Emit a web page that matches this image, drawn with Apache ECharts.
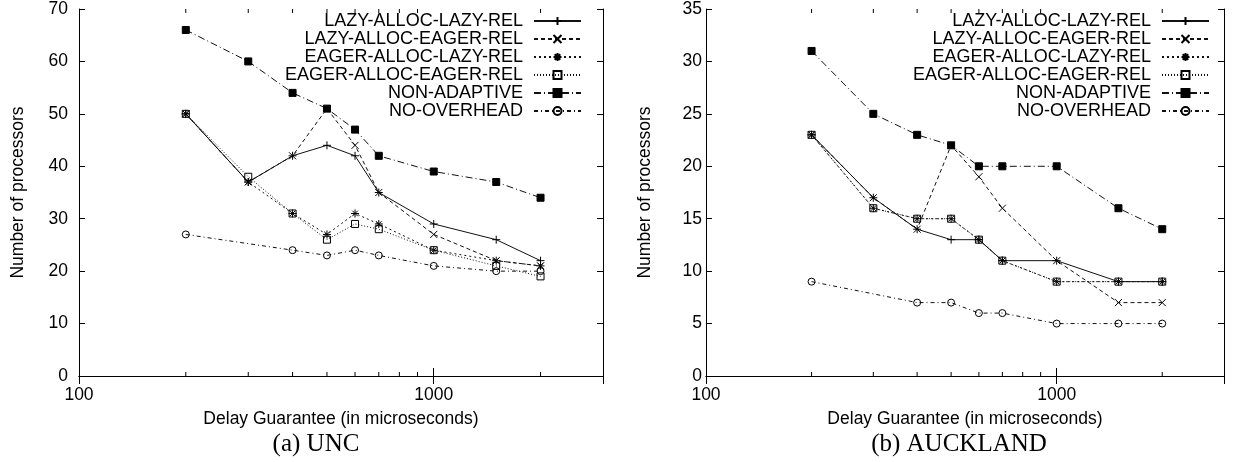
<!DOCTYPE html>
<html>
<head>
<meta charset="utf-8">
<script src="https://cdn.jsdelivr.net/npm/echarts@6/dist/echarts.min.js"></script>
<style>
html,body{margin:0;padding:0;background:#fff;}
#chart{width:1242px;height:462px;}
</style>
</head>
<body>
<div id="chart"></div>
<script>
// ---- data ----
const delays = [200, 300, 400, 500, 600, 700, 1000, 1500, 2000];
const seriesNames = ['LAZY-ALLOC-LAZY-REL', 'LAZY-ALLOC-EAGER-REL', 'EAGER-ALLOC-LAZY-REL', 'EAGER-ALLOC-EAGER-REL', 'NON-ADAPTIVE', 'NO-OVERHEAD'];

const uncLazyLazy    = [50, 37, 42, 44, 42, 35, 29, 26, 22];
const uncLazyEager   = [50, 37, 42, 51, 44, 35, 27, 22, 21];
const uncEagerLazy   = [50, 37, 31, 27, 31, 29, 24, 22, 21];
const uncEagerEager  = [50, 38, 31, 26, 29, 28, 24, 21, 19];
const uncNonAdaptive = [66, 60, 54, 51, 47, 42, 39, 37, 34];
const uncNoOverhead  = [27, null, 24, 23, 24, 23, 21, 20, 20];

const aucLazyLazy    = [23, 17, 14, 13, 13, 11, 11, 9, 9];
const aucLazyEager   = [23, 17, 14, 22, 19, 16, 11, 7, 7];
const aucEagerLazy   = [23, 16, 15, 15, 13, 11, 9, 9, 9];
const aucEagerEager  = [23, 16, 15, 15, 13, 11, 9, 9, 9];
const aucNonAdaptive = [31, 25, 23, 22, 20, 20, 20, 16, 14];
const aucNoOverhead  = [9, null, 7, 7, 6, 6, 5, 5, 5];

const xTickLabels = [100, 1000];
const minorTickValues = [200, 300, 400, 500, 600, 700, 800, 900, 2000];
const panelTitles = ['(a) UNC', '(b) AUCKLAND'];
const xAxisTitle = 'Delay Guarantee (in microseconds)';
const yAxisTitle = 'Number of processors';

// ---- styles ----
const SANS = "'Liberation Sans', Arial, Helvetica, sans-serif";
const SERIF = "'Liberation Serif', 'Times New Roman', serif";
const styles = [
  {symbol: 'path://M0,5L10,5M5,0L5,10', size: 8, dash: 'solid', fill: 'transparent'},
  {symbol: 'path://M0,0L10,10M10,0L0,10', size: 7, dash: [4, 3], fill: 'transparent'},
  {symbol: 'path://M0,5L10,5M5,0L5,10M1.5,1.5L8.5,8.5M8.5,1.5L1.5,8.5', size: 8, dash: [2, 3], fill: 'transparent'},
  {symbol: 'rect', size: 7, dash: [1, 2], fill: 'transparent'},
  {symbol: 'rect', size: 7, dash: [7, 3, 1, 3], fill: '#000'},
  {symbol: 'circle', size: 7, dash: [4, 3, 1, 3], fill: 'transparent'}
];

const uncSets = [uncLazyLazy, uncLazyEager, uncEagerLazy, uncEagerEager, uncNonAdaptive, uncNoOverhead];
const aucSets = [aucLazyLazy, aucLazyEager, aucEagerLazy, aucEagerEager, aucNonAdaptive, aucNoOverhead];

function pairs(vals) {
  const out = [];
  delays.forEach((d, i) => { if (vals[i] !== null) out.push([d, vals[i]]); });
  return out;
}

function lineSeries(sets, xi, yi) {
  return sets.map((vals, k) => ({
    name: seriesNames[k],
    type: 'line',
    xAxisIndex: xi, yAxisIndex: yi,
    data: pairs(vals),
    symbol: styles[k].symbol,
    symbolSize: styles[k].size,
    showSymbol: true,
    animation: false,
    lineStyle: {color: '#111', width: 1, type: styles[k].dash},
    itemStyle: {color: styles[k].fill, borderColor: '#000', borderWidth: 1},
    emphasis: {disabled: true},
    z: 3 + k
  }));
}

function minorTickSeries(xi, yi, yMin, yMax) {
  return {
    type: 'custom',
    xAxisIndex: xi, yAxisIndex: yi,
    silent: true, animation: false,
    data: minorTickValues.map(v => [v, yMin]),
    renderItem: function (params, api) {
      const v = api.value(0);
      const b = api.coord([v, yMin]);
      const t = api.coord([v, yMax]);
      const st = {stroke: '#000', lineWidth: 1};
      return {
        type: 'group',
        children: [
          {type: 'line', shape: {x1: b[0], y1: b[1], x2: b[0], y2: b[1] - 4}, style: st},
          {type: 'line', shape: {x1: t[0], y1: t[1], x2: t[0], y2: t[1] + 4}, style: st}
        ]
      };
    }
  };
}

const axisLine = {show: true, lineStyle: {color: '#000', width: 1}};
const labelStyle = {color: '#000', fontFamily: SANS, fontSize: 17.5};

function xAxes(gi) {
  return [
    {
      type: 'log', logBase: 10, gridIndex: gi, min: 100, max: 3000, position: 'bottom',
      axisLine: axisLine,
      axisTick: {show: true, inside: true, length: 8, lineStyle: {color: '#000'}},
      axisLabel: Object.assign({margin: 10, showMaxLabel: false, formatter: v => (xTickLabels.indexOf(v) >= 0 ? String(v) : '')}, labelStyle),
      splitLine: {show: false},
      name: xAxisTitle, nameLocation: 'middle', nameGap: 34,
      nameTextStyle: {color: '#000', fontFamily: SANS, fontSize: 17.5}
    },
    {
      type: 'log', logBase: 10, gridIndex: gi, min: 100, max: 3000, position: 'top',
      axisLine: axisLine,
      axisTick: {show: true, inside: true, length: 8, lineStyle: {color: '#000'}},
      axisLabel: {show: false},
      splitLine: {show: false}
    }
  ];
}

function yAxes(gi, max, interval, margin) {
  return [
    {
      type: 'value', gridIndex: gi, min: 0, max: max, interval: interval, position: 'left',
      axisLine: axisLine,
      axisTick: {show: true, inside: true, length: 6, lineStyle: {color: '#000'}},
      axisLabel: Object.assign({margin: margin}, labelStyle),
      splitLine: {show: false},
      name: yAxisTitle, nameLocation: 'middle', nameGap: 52,
      nameTextStyle: {color: '#000', fontFamily: SANS, fontSize: 17.5}
    },
    {
      type: 'value', gridIndex: gi, min: 0, max: max, interval: interval, position: 'right',
      axisLine: axisLine,
      axisTick: {show: true, inside: true, length: 6, lineStyle: {color: '#000'}},
      axisLabel: {show: false},
      splitLine: {show: false}
    }
  ];
}

function legend(right) {
  return {
    data: seriesNames,
    orient: 'vertical',
    right: right, top: 12,
    align: 'right',
    padding: 0,
    itemWidth: 47, itemHeight: 10, itemGap: 0,
    selectedMode: false,
    textStyle: {color: '#000', fontFamily: SANS, fontSize: 18, padding: [0, 6, 0, 0]}
  };
}

const chart = echarts.init(document.getElementById('chart'), null, {renderer: 'canvas'});
chart.setOption({
  backgroundColor: '#fff',
  animation: false,
  grid: [
    {left: 79, right: 1242 - 603, top: 6, bottom: 462 - 376, containLabel: false},
    {left: 706, right: 1242 - 1224, top: 6, bottom: 462 - 376, containLabel: false}
  ],
  xAxis: xAxes(0).concat(xAxes(1)),
  yAxis: yAxes(0, 70, 10, 11).concat(yAxes(1, 35, 5, 4)),
  legend: [legend(1242 - 582), legend(1242 - 1210)],
  graphic: [
    {type: 'text', x: 316, y: 444, style: {text: panelTitles[0], font: '25px ' + SERIF, fill: '#000', align: 'center', verticalAlign: 'middle'}},
    {type: 'text', x: 959, y: 444, style: {text: panelTitles[1], font: '25px ' + SERIF, fill: '#000', align: 'center', verticalAlign: 'middle'}}
  ],
  series: lineSeries(uncSets, 0, 0)
    .concat(lineSeries(aucSets, 2, 2))
    .concat([minorTickSeries(0, 0, 0, 70), minorTickSeries(2, 2, 0, 35)])
});
</script>
</body>
</html>
